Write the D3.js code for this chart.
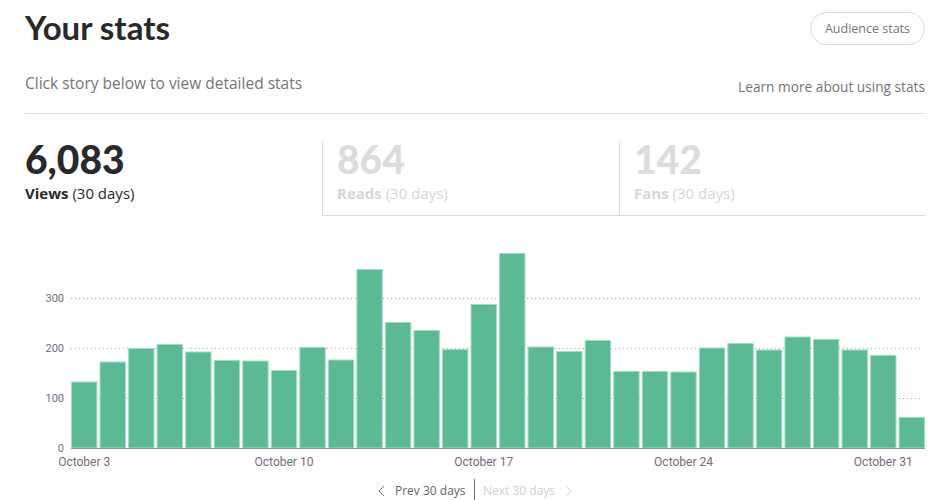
<!DOCTYPE html>
<html>
<head>
<meta charset="utf-8">
<script src="https://cdn.jsdelivr.net/npm/d3@7/dist/d3.min.js"></script>
<style>
  html, body { margin: 0; padding: 0; background: #fff; }
  svg { display: block; }
  text { font-family: "Open Sans", "Noto Sans", sans-serif; }
  .tick text { font-family: Roboto, "Open Sans", sans-serif; }
  .heavy { font-family: Lato, "Open Sans", sans-serif; }
</style>
</head>
<body>
<svg id="chart" width="942" height="500"></svg>
<script>
// ---- data ----
const days = ["Oct 3","Oct 4","Oct 5","Oct 6","Oct 7","Oct 8","Oct 9","Oct 10","Oct 11","Oct 12",
              "Oct 13","Oct 14","Oct 15","Oct 16","Oct 17","Oct 18","Oct 19","Oct 20","Oct 21","Oct 22",
              "Oct 23","Oct 24","Oct 25","Oct 26","Oct 27","Oct 28","Oct 29","Oct 30","Oct 31","Nov 1"];
const views = [133,173,200,208,193,176,175,156,202,177,
               358,252,236,198,288,390,203,194,216,154,
               154,153,201,210,197,223,218,197,186,62];
const xTickDays = ["Oct 3","Oct 10","Oct 17","Oct 24","Oct 31"];
const xTickLabels = ["October 3","October 10","October 17","October 24","October 31"];
const yTicks = [0,100,200,300];
const statValues = ["6,083","864","142"];
const statNames = ["Views","Reads","Fans"];

const svg = d3.select("#chart");

// ---- header ----
svg.append("text").attr("class","heavy").attr("x",25).attr("y",40)
  .attr("font-size",33).attr("font-weight",700).attr("fill","#292929")
  .text("Your stats");

const btn = svg.append("g");
btn.append("rect").attr("x",810.5).attr("y",12.5).attr("width",114).attr("height",32).attr("rx",16)
  .attr("fill","#fff").attr("stroke","#d9d9d9");
btn.append("text").attr("x",867.5).attr("y",33).attr("text-anchor","middle")
  .attr("font-size",12.5).attr("fill","#757575").text("Audience stats");

svg.append("text").attr("x",25).attr("y",89).attr("font-size",15.5).attr("fill","#757575")
  .text("Click story below to view detailed stats");
svg.append("text").attr("x",925).attr("y",92).attr("text-anchor","end").attr("font-size",13.7)
  .attr("fill","#757575").text("Learn more about using stats");

svg.append("line").attr("x1",25).attr("x2",925).attr("y1",113.5).attr("y2",113.5)
  .attr("stroke","#dcdcdc");

// ---- stat tabs ----
const tabX = [25, 337, 634];
const tabs = svg.selectAll("g.tab").data(statValues).join("g").attr("class","tab")
  .attr("transform",(d,i)=>`translate(${tabX[i]},0)`);
tabs.append("text").attr("class","heavy").attr("y",174).attr("font-size",39).attr("font-weight",900)
  .attr("fill",(d,i)=> i===0 ? "#292929" : "#dcdcdc").text(d=>d);
const sub = tabs.append("text").attr("y",199).attr("font-size",15)
  .attr("fill",(d,i)=> i===0 ? "#292929" : "#d6d6d6");
sub.append("tspan").attr("font-weight",700).text((d,i)=>statNames[i]);
sub.append("tspan").text(" (30 days)");
[322.5, 619.5].forEach(x=>{
  svg.append("line").attr("x1",x).attr("x2",x).attr("y1",141).attr("y2",215.5).attr("stroke","#dcdcdc");
});
svg.append("line").attr("x1",322).attr("x2",925).attr("y1",215.5).attr("y2",215.5).attr("stroke","#dcdcdc");

// ---- chart ----
const x = d3.scaleBand().domain(days).range([71,925]).paddingInner(0.075).paddingOuter(0);
const y = d3.scaleLinear().domain([0,400]).range([448,248]);

// gridlines
svg.append("g").selectAll("line").data(yTicks.filter(d=>d>0)).join("line")
  .attr("x1",71).attr("x2",922)
  .attr("y1",d=>Math.round(y(d))+0.5).attr("y2",d=>Math.round(y(d))+0.5)
  .attr("stroke","#a0a0a0").attr("stroke-dasharray","1,3");

// bars
svg.append("g").selectAll("rect").data(views).join("rect")
  .attr("x",(d,i)=>x(days[i])+0.5)
  .attr("y",d=>y(d)+0.5)
  .attr("width",x.bandwidth()-1)
  .attr("height",d=>448-y(d)-0.5)
  .attr("fill","#5bba94")
  .attr("stroke","#a3dcc3").attr("stroke-width",1);

// y axis
const yAxis = svg.append("g").attr("transform","translate(64,0)")
  .call(d3.axisLeft(y).tickValues(yTicks).tickSize(0).tickPadding(0));
yAxis.select(".domain").remove();
yAxis.selectAll("text").attr("font-size",11).attr("fill","#6e6e7a").attr("dy","0.32em");

// x axis baseline
svg.append("line").attr("x1",71).attr("x2",925).attr("y1",448.5).attr("y2",448.5)
  .attr("stroke","#8f8f8f");

const xAxis = svg.append("g").attr("transform","translate(0,448)")
  .call(d3.axisBottom(x).tickValues(xTickDays).tickSize(0).tickPadding(9)
        .tickFormat(d=>xTickLabels[xTickDays.indexOf(d)]));
xAxis.select(".domain").remove();
xAxis.selectAll("text").attr("font-size",12).attr("fill","#6e6e7a");

// ---- pager ----
const nav = svg.append("g");
nav.append("path").attr("d","M384,486 L379,491 L384,496").attr("fill","none").attr("stroke","#757575");
nav.append("text").attr("x",395).attr("y",495).attr("font-size",12).attr("fill","#666").text("Prev 30 days");
nav.append("line").attr("x1",474.5).attr("x2",474.5).attr("y1",479).attr("y2",500).attr("stroke","#757575");
nav.append("text").attr("x",483).attr("y",495).attr("font-size",12).attr("fill","#d0d0d0").text("Next 30 days");
nav.append("path").attr("d","M566,486 L571,491 L566,496").attr("fill","none").attr("stroke","#d0d0d0");
</script>
</body>
</html>
